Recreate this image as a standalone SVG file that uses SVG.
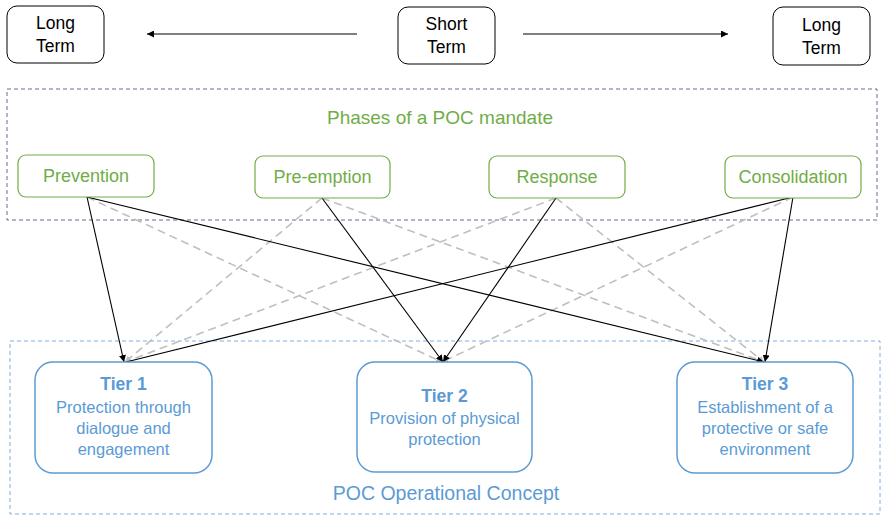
<svg xmlns="http://www.w3.org/2000/svg" width="883" height="515" viewBox="0 0 883 515">
<style>
text{font-family:"Liberation Sans",Arial,sans-serif;text-anchor:middle}
.term rect{fill:#fff;stroke:#000;stroke-width:1}
.term text{font-size:17.5px;fill:#000}
.phase rect{fill:#fff;stroke:#70ad47;stroke-width:1.2}
.phase text{font-size:18px;fill:#70ad47}
.tier rect{fill:#fff;stroke:#5b9bd5;stroke-width:1.5}
.tier text{font-size:16.5px;fill:#5b9bd5}
.tier .t{font-size:17.5px;font-weight:bold}
.solid{stroke:#000;stroke-width:1.1;fill:none}
.dash{stroke:#bfbfbf;stroke-width:1.6;stroke-dasharray:8 5;fill:none}
</style>
<defs>
<marker id="ab" viewBox="0 0 10 10" refX="10" refY="5" markerWidth="7" markerHeight="7" orient="auto" markerUnits="userSpaceOnUse"><path d="M0,0L10,5L0,10z" fill="#000"/></marker>
<marker id="ag" viewBox="0 0 10 10" refX="10" refY="5" markerWidth="6" markerHeight="6" orient="auto" markerUnits="userSpaceOnUse"><path d="M0,0L10,5L0,10z" fill="#bfbfbf"/></marker>
</defs>
<rect id="phases-frame" x="7" y="89" width="870" height="131" fill="none" stroke="#6b6b94" stroke-width="1" stroke-dasharray="4 3"/>
<text x="440" y="124" style="font-size:19px;fill:#70ad47">Phases of a POC mandate</text>
<rect id="poc-frame" x="10" y="341" width="870" height="173" fill="none" stroke="#7fb0e0" stroke-width="1" stroke-dasharray="4 3"/>
<text x="446" y="500" style="font-size:19.5px;fill:#5b9bd5">POC Operational Concept</text>
<g id="connectors">
<line class="solid" x1="357" y1="34" x2="147" y2="34" marker-end="url(#ab)"/>
<line class="solid" x1="523" y1="34" x2="728" y2="34" marker-end="url(#ab)"/>
<line class="dash" x1="87" y1="197" x2="442" y2="362" marker-end="url(#ag)"/>
<line class="dash" x1="322" y1="198" x2="125" y2="362" marker-end="url(#ag)"/>
<line class="dash" x1="322" y1="198" x2="764" y2="362" marker-end="url(#ag)"/>
<line class="dash" x1="556" y1="198" x2="125" y2="362" marker-end="url(#ag)"/>
<line class="dash" x1="556" y1="198" x2="764" y2="362" marker-end="url(#ag)"/>
<line class="dash" x1="793" y1="197" x2="442" y2="362" marker-end="url(#ag)"/>
<line class="solid" x1="87" y1="197" x2="124" y2="362" marker-end="url(#ab)"/>
<line class="solid" x1="87" y1="197" x2="764" y2="362" marker-end="url(#ab)"/>
<line class="solid" x1="322" y1="198" x2="443" y2="362" marker-end="url(#ab)"/>
<line class="solid" x1="556" y1="198" x2="443" y2="362" marker-end="url(#ab)"/>
<line class="solid" x1="793" y1="197" x2="126" y2="362"/>
<line class="solid" x1="793" y1="197" x2="765" y2="362" marker-end="url(#ab)"/>
</g>
<g id="long-term-left" class="term"><rect x="7" y="6" width="97" height="57" rx="10"/><text x="55.5" y="29">Long</text><text x="55.5" y="52">Term</text></g>
<g id="short-term" class="term"><rect x="398" y="7" width="97" height="57" rx="10"/><text x="446.5" y="30">Short</text><text x="446.5" y="53">Term</text></g>
<g id="long-term-right" class="term"><rect x="773" y="7" width="97" height="58" rx="10"/><text x="821.5" y="31">Long</text><text x="821.5" y="54">Term</text></g>
<g id="prevention" class="phase"><rect x="18" y="155" width="136" height="42" rx="8"/><text x="86" y="182">Prevention</text></g>
<g id="pre-emption" class="phase"><rect x="255" y="156" width="135" height="42" rx="8"/><text x="322.5" y="183">Pre-emption</text></g>
<g id="response" class="phase"><rect x="489" y="156" width="136" height="42" rx="8"/><text x="557" y="183">Response</text></g>
<g id="consolidation" class="phase"><rect x="725" y="156" width="136" height="42" rx="8"/><text x="793" y="183">Consolidation</text></g>
<g id="tier1" class="tier"><rect x="35" y="362" width="177" height="111" rx="18"/><text class="t" x="123.5" y="390">Tier 1</text><text x="123.5" y="413">Protection through</text><text x="123.5" y="434">dialogue and</text><text x="123.5" y="455">engagement</text></g>
<g id="tier2" class="tier"><rect x="357" y="362" width="175" height="110" rx="18"/><text class="t" x="444.5" y="402">Tier 2</text><text x="444.5" y="424">Provision of physical</text><text x="444.5" y="445">protection</text></g>
<g id="tier3" class="tier"><rect x="677" y="362" width="176" height="111" rx="18"/><text class="t" x="765" y="390">Tier 3</text><text x="765" y="413">Establishment of a</text><text x="765" y="434">protective or safe</text><text x="765" y="455">environment</text></g>
</svg>
